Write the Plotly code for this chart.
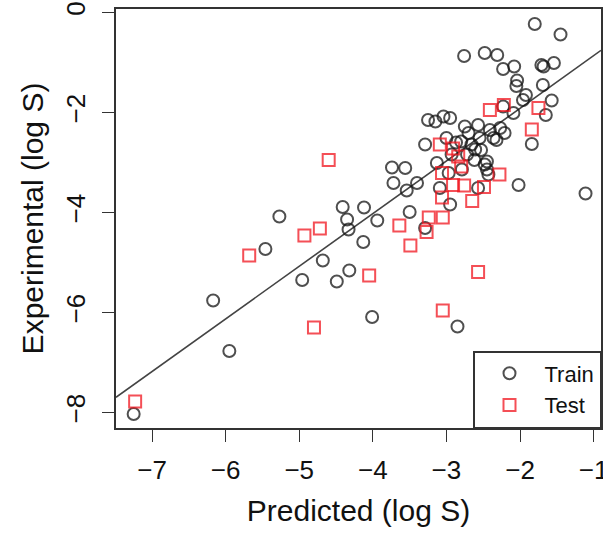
import plotly.graph_objects as go

# ---- data ----
train_pred = [-1.80, -1.45, -2.76, -2.48, -2.31, -2.23, -2.08, -1.71, -1.68, -1.54,
              -2.04, -2.05, -1.69, -1.92, -1.96, -1.57, -2.23, -2.09, -1.65, -1.84,
              -3.25, -3.15, -3.04, -2.95, -2.75, -2.57, -2.70, -2.41, -2.27, -2.21,
              -2.36, -3.29, -3.00, -2.66, -2.61, -2.72, -2.93, -3.13, -2.45, -2.55,
              -2.53, -2.62, -2.80, -2.97, -2.79, -2.48, -2.45, -2.43, -2.57, -3.09,
              -2.95, -3.40, -2.02, -3.29, -3.50, -3.56, -3.74, -3.72, -3.54, -1.11,
              -4.41, -4.12, -4.35, -4.33, -3.94, -4.13, -5.27, -5.46, -4.68, -4.96,
              -4.49, -4.32, -6.17, -5.95, -4.01, -2.85, -7.25, -2.32, -2.87]
train_exp = [-0.23, -0.44, -0.87, -0.81, -0.85, -1.13, -1.08, -1.05, -1.08, -1.01,
             -1.36, -1.47, -1.45, -1.65, -1.75, -1.76, -1.88, -2.01, -2.05, -2.63,
             -2.15, -2.18, -2.08, -2.11, -2.28, -2.25, -2.41, -2.35, -2.31, -2.41,
             -2.51, -2.64, -2.51, -2.64, -2.74, -2.84, -2.84, -3.01, -2.98, -2.51,
             -2.75, -2.95, -2.58, -3.21, -3.14, -3.04, -3.14, -3.24, -3.51, -3.51,
             -3.84, -3.41, -3.45, -4.31, -3.99, -3.11, -3.10, -3.41, -3.56, -3.62,
             -3.89, -3.90, -4.14, -4.34, -4.16, -4.59, -4.08, -4.73, -4.96, -5.35,
             -5.38, -5.16, -5.76, -6.77, -6.09, -6.28, -8.03, -2.55, -2.60]

test_pred = [-2.41, -2.22, -1.75, -1.84, -3.09, -2.91, -2.84, -3.06, -2.80, -2.91,
             -2.76, -2.49, -2.28, -3.06, -2.65, -3.24, -3.05, -3.64, -3.27, -3.49,
             -4.72, -4.93, -5.68, -4.60, -4.05, -2.57, -4.80, -3.05, -7.23]
test_exp = [-1.95, -1.85, -1.91, -2.34, -2.64, -2.72, -2.88, -3.21, -3.08, -3.45,
            -3.46, -3.49, -3.24, -3.70, -3.77, -4.10, -4.10, -4.26, -4.39, -4.66,
            -4.32, -4.46, -4.86, -2.95, -5.26, -5.19, -6.30, -5.96, -7.78]

fit_slope = 1.053
fit_intercept = 0.19

x_range = [-7.49, -0.90]
y_range = [-8.31, 0.07]
x_ticks = [-7, -6, -5, -4, -3, -2, -1]
y_ticks = [0, -2, -4, -6, -8]

FONT = "Liberation Sans, Arial, Helvetica, sans-serif"

fig = go.Figure()

fig.add_trace(go.Scatter(
    x=x_range, y=[fit_slope * v + fit_intercept for v in x_range],
    mode="lines", line=dict(color="#444444", width=1.6),
    showlegend=False, hoverinfo="skip"))

fig.add_trace(go.Scatter(
    x=train_pred, y=train_exp, mode="markers", name="Train",
    marker=dict(symbol="circle-open", size=12,
                color="rgba(20,20,20,0.75)", line=dict(width=2))))

fig.add_trace(go.Scatter(
    x=test_pred, y=test_exp, mode="markers", name="Test",
    marker=dict(symbol="square-open", size=12,
                color="rgba(240,20,30,0.75)", line=dict(width=2))))

axis_common = dict(
    showline=True, mirror=True, linecolor="#333333", linewidth=1.5,
    showgrid=False, zeroline=False, ticks="outside", ticklen=12,
    tickwidth=1.3, tickcolor="#333333", ticklabeloverflow="allow",
    automargin=False,
    tickfont=dict(family=FONT, size=26, color="#111111"),
)

fig.update_layout(
    width=603, height=535,
    margin=dict(l=116, r=2, t=9, b=107),
    paper_bgcolor="white", plot_bgcolor="white",
    font=dict(family=FONT, color="#111111"),
    xaxis=dict(range=x_range, tickvals=x_ticks, ticklabelstandoff=6, **axis_common,
               title=dict(text="Predicted (log S)", standoff=16,
                          font=dict(family=FONT, size=30, color="#111111"))),
    yaxis=dict(range=y_range, tickvals=y_ticks, tickangle=-90, ticklabelstandoff=7,
               **axis_common,
               title=dict(text="Experimental (log S)", standoff=8,
                          font=dict(family=FONT, size=30, color="#111111"))),
    legend=dict(x=1, y=0, xanchor="right", yanchor="bottom",
                bordercolor="#333333", borderwidth=1.5, bgcolor="white",
                font=dict(family=FONT, size=22, color="#111111"),
                itemwidth=60),
)

fig.write_html("out.html", config={"displayModeBar": False},
               post_script="document.body.style.margin='0';")
